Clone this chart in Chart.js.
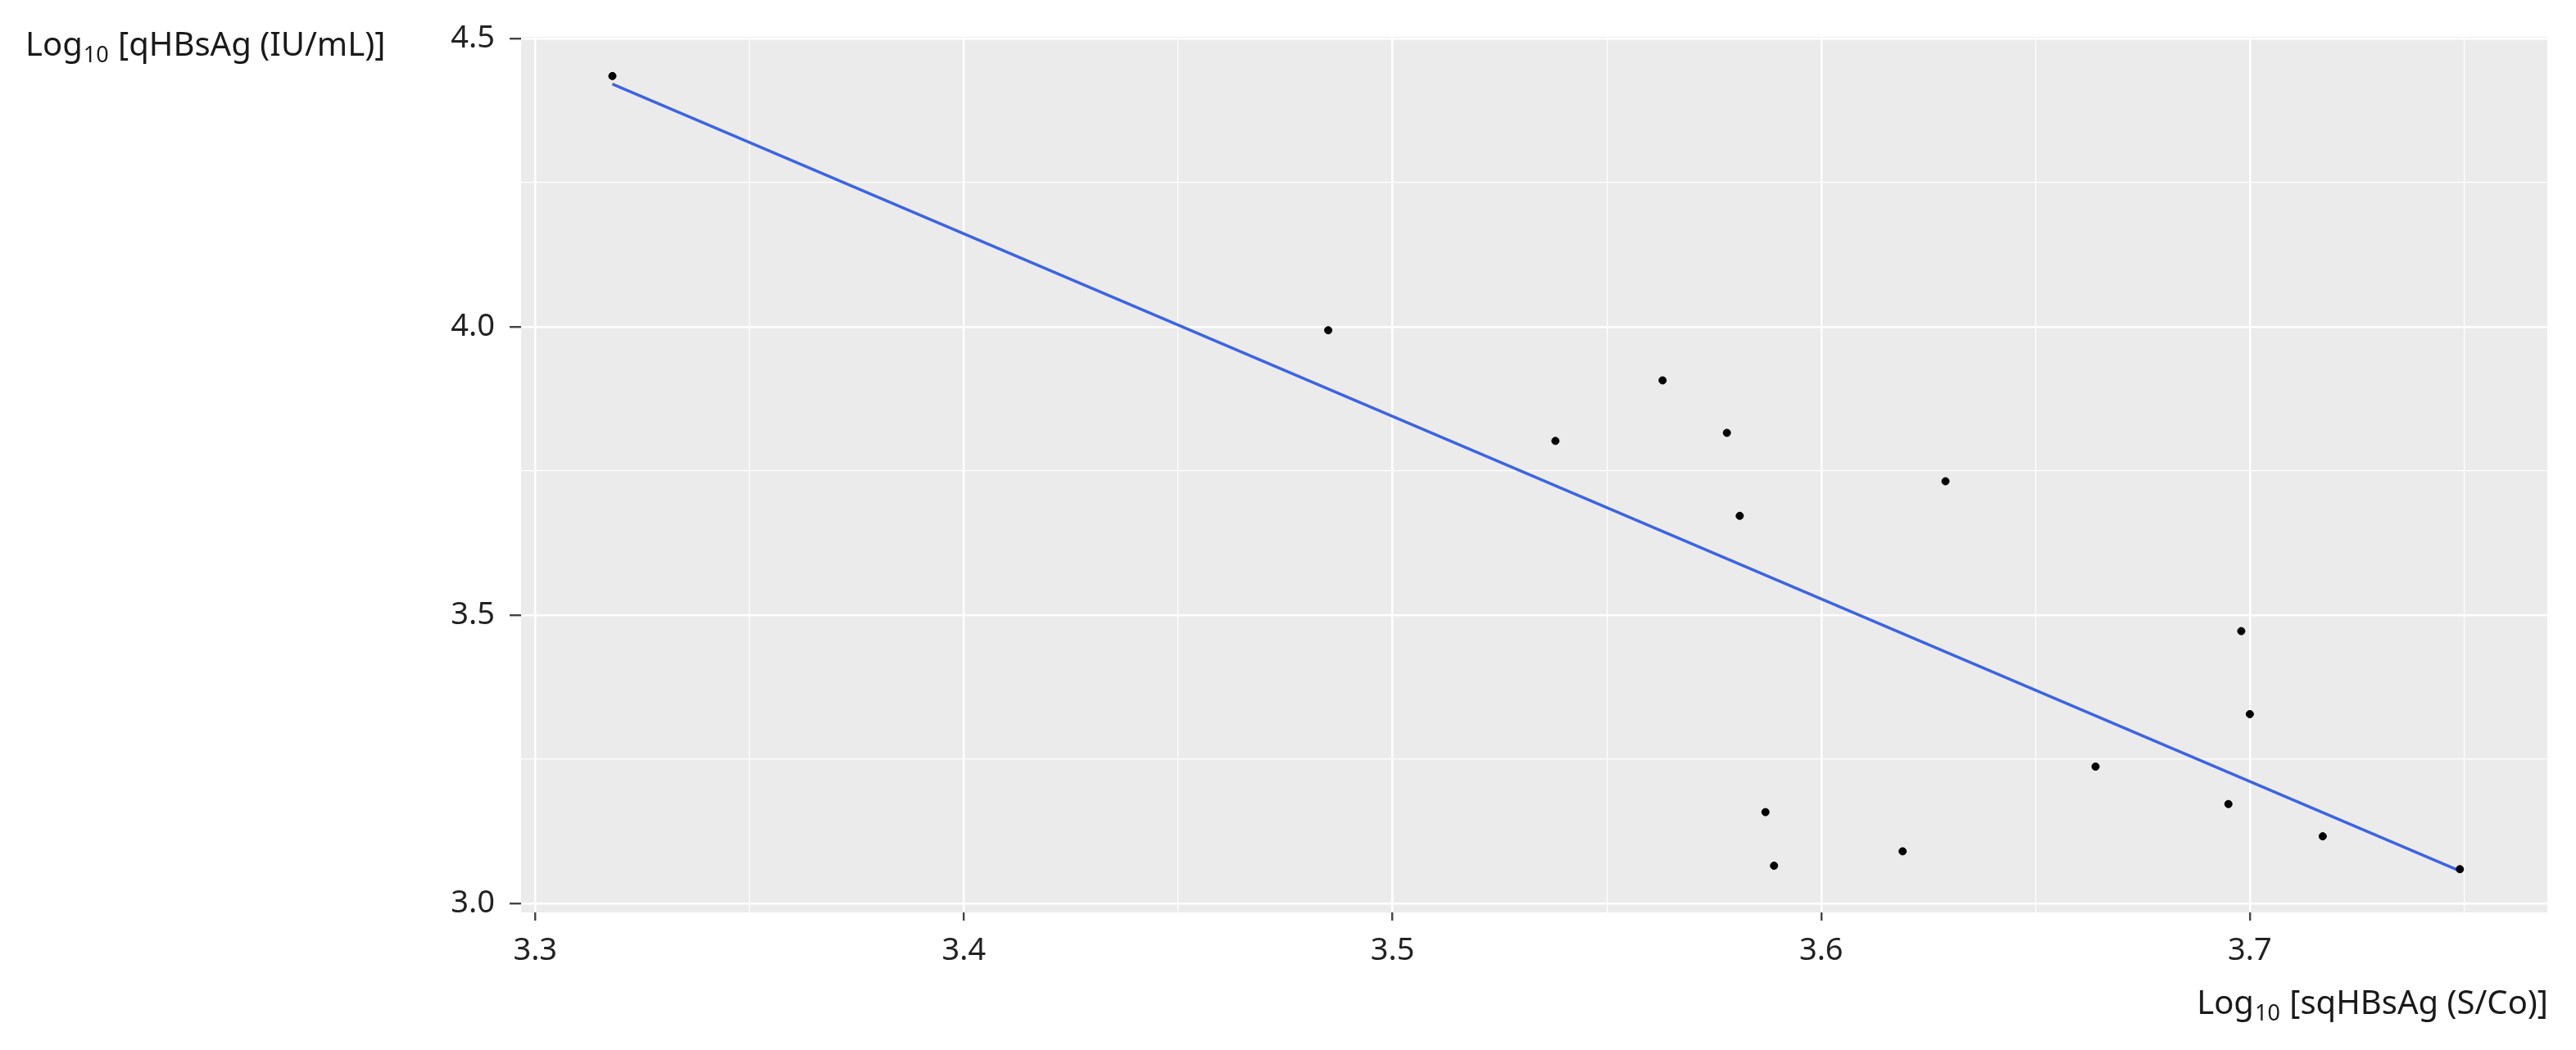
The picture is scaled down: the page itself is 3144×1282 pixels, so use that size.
<!DOCTYPE html>
<html><head><meta charset="utf-8">
<script src="https://cdn.jsdelivr.net/npm/chart.js@4/dist/chart.umd.min.js"></script>
<style>html,body{margin:0;padding:0;background:#fff}</style>
</head><body>
<canvas id="c" width="3144" height="1282"></canvas>
<script>
const xValues = [3.318,3.485,3.538,3.563,3.578,3.581,3.629,3.587,3.589,3.619,3.664,3.698,3.700,3.695,3.717,3.749];
const yValues = [4.435,3.994,3.802,3.907,3.816,3.672,3.732,3.158,3.065,3.090,3.237,3.472,3.328,3.172,3.116,3.059];
const fitX = [3.318,3.749];
const fitY = [4.421,3.056];
const xTicks = [3.3,3.4,3.5,3.6,3.7];
const yTicks = [3.0,3.5,4.0,4.5];
const yTitle = ['Log','10',' [qHBsAg (IU/mL)]'];
const xTitle = ['Log','10',' [sqHBsAg (S/Co)]'];

const FONT = '"Noto Sans", "DejaVu Sans", sans-serif';
const isMajor = (v, list) => list.some(t => Math.abs(t - v) < 1e-6);

const bgPlugin = {
  id:'bg',
  beforeDraw(chart){
    const {ctx, chartArea:a} = chart;
    ctx.save(); ctx.fillStyle = '#EBEBEB';
    ctx.fillRect(a.left, a.top, a.right-a.left, a.bottom-a.top); ctx.restore();
  },
  afterDraw(chart){
    const ctx = chart.ctx;
    function drawSub(parts, x, y, align){
      ctx.save(); ctx.fillStyle = '#1a1a1a'; ctx.textBaseline='alphabetic';
      const big = '40px '+FONT, small = '27px '+FONT;
      ctx.font = big; const w1 = ctx.measureText(parts[0]).width, w3 = ctx.measureText(parts[2]).width;
      ctx.font = small; const w2 = ctx.measureText(parts[1]).width;
      let sx = align==='right' ? x - (w1+w2+w3) : x;
      ctx.textAlign='left';
      ctx.font = big; ctx.fillText(parts[0], sx, y);
      ctx.font = small; ctx.fillText(parts[1], sx+w1+1, y+8);
      ctx.font = big; ctx.fillText(parts[2], sx+w1+w2+2, y);
      ctx.restore();
    }
    drawSub(yTitle, 31, 68, 'left');
    drawSub(xTitle, 3108, 1238, 'right');
  }
};

new Chart(document.getElementById('c'), {
  type:'scatter',
  data:{datasets:[
    {type:'line', data: fitX.map((x,i)=>({x, y:fitY[i]})), borderColor:'#3D64E0', borderWidth:3.5, pointRadius:0, fill:false, order:2},
    {data: xValues.map((x,i)=>({x, y:yValues[i]})), backgroundColor:'#000', borderColor:'#000', pointRadius:4.5, pointHoverRadius:4.5, order:1}
  ]},
  options:{
    responsive:false, devicePixelRatio:1, animation:false,
    layout:{padding:{left:0, top:45, right:35, bottom:0}},
    plugins:{legend:{display:false}, tooltip:{enabled:false}},
    scales:{
      x:{type:'linear', min:3.2967, max:3.7694,
        afterBuildTicks(s){ s.ticks=[3.3,3.35,3.4,3.45,3.5,3.55,3.6,3.65,3.7,3.75].map(v=>({value:v})); },
        afterFit(s){ s.height = 168; },
        border:{display:false},
        grid:{color:'#fff', lineWidth:c=>isMajor(c.tick.value,xTicks)?2.4:1.2,
              tickColor:c=>isMajor(c.tick.value,xTicks)?'#444':'rgba(0,0,0,0)', tickLength:10, drawTicks:true},
        ticks:{autoSkip:false, maxRotation:0, color:'#222', font:{size:38, family:FONT}, padding:14,
          callback:v=>isMajor(v,xTicks)?v.toFixed(1):''}
      },
      y:{type:'linear', min:2.984, max:4.503,
        afterBuildTicks(s){ s.ticks=[3.0,3.25,3.5,3.75,4.0,4.25,4.5].map(v=>({value:v})); },
        afterFit(s){ s.width = 636; },
        border:{display:false},
        grid:{color:'#fff', lineWidth:c=>isMajor(c.tick.value,yTicks)?2.4:1.2,
              tickColor:c=>isMajor(c.tick.value,yTicks)?'#444':'rgba(0,0,0,0)', tickLength:14, drawTicks:true},
        ticks:{autoSkip:false, color:'#222', font:{size:38, family:FONT}, padding:18,
          callback:v=>isMajor(v,yTicks)?v.toFixed(1):''}
      }
    }
  },
  plugins:[bgPlugin]
});
</script>
</body></html>
